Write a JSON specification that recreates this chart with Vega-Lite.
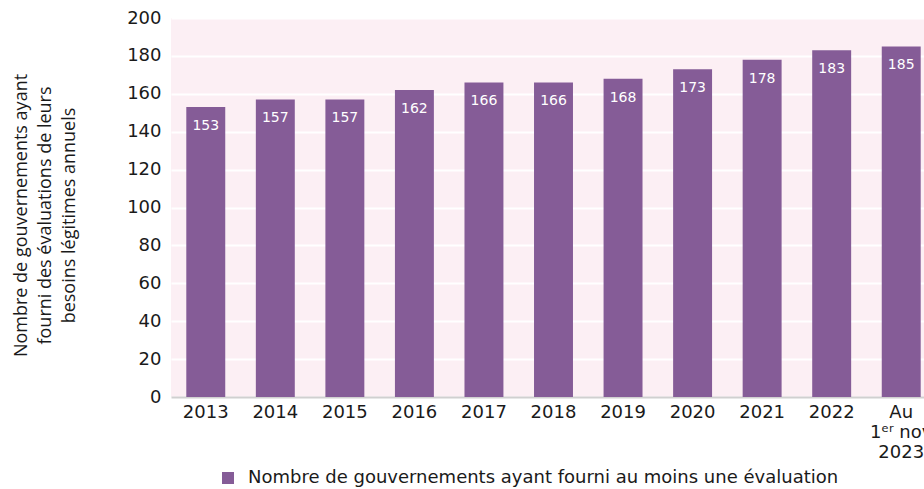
{
  "$schema": "https://vega.github.io/schema/vega-lite/v6.json",
  "width": 765,
  "height": 379,
  "padding": {"left": 12, "top": 9, "right": 0, "bottom": 0},
  "background": "white",
  "config": {
    "view": {"fill": "#FCEFF4", "stroke": null},
    "font": "DejaVu Sans"
  },
  "data": {
    "values": [
      {"annee": "2013", "valeur": 153, "serie": "Nombre de gouvernements ayant fourni au moins une évaluation"},
      {"annee": "2014", "valeur": 157, "serie": "Nombre de gouvernements ayant fourni au moins une évaluation"},
      {"annee": "2015", "valeur": 157, "serie": "Nombre de gouvernements ayant fourni au moins une évaluation"},
      {"annee": "2016", "valeur": 162, "serie": "Nombre de gouvernements ayant fourni au moins une évaluation"},
      {"annee": "2017", "valeur": 166, "serie": "Nombre de gouvernements ayant fourni au moins une évaluation"},
      {"annee": "2018", "valeur": 166, "serie": "Nombre de gouvernements ayant fourni au moins une évaluation"},
      {"annee": "2019", "valeur": 168, "serie": "Nombre de gouvernements ayant fourni au moins une évaluation"},
      {"annee": "2020", "valeur": 173, "serie": "Nombre de gouvernements ayant fourni au moins une évaluation"},
      {"annee": "2021", "valeur": 178, "serie": "Nombre de gouvernements ayant fourni au moins une évaluation"},
      {"annee": "2022", "valeur": 183, "serie": "Nombre de gouvernements ayant fourni au moins une évaluation"},
      {"annee": "Au 1er nov 2023", "valeur": 185, "serie": "Nombre de gouvernements ayant fourni au moins une évaluation"}
    ]
  },
  "encoding": {
    "x": {
      "field": "annee",
      "type": "nominal",
      "sort": null,
      "scale": {"paddingInner": 0.44, "paddingOuter": 0.22},
      "axis": {
        "title": null,
        "labelAngle": 0,
        "labelFontSize": 18,
        "labelColor": "#1a1a1a",
        "labelPadding": 6,
        "ticks": false,
        "domain": true,
        "domainColor": "#d0d0d0",
        "domainWidth": 2,
        "labelLineHeight": 20,
        "labelBaseline": "top",
        "labelExpr": "datum.value == 'Au 1er nov 2023' ? ['Au', '1ᵉʳ nov', '2023'] : datum.value"
      }
    },
    "y": {
      "field": "valeur",
      "type": "quantitative",
      "scale": {"domain": [0, 200], "nice": false},
      "axis": {
        "values": [0, 20, 40, 60, 80, 100, 120, 140, 160, 180, 200],
        "title": ["Nombre de gouvernements ayant", "fourni des évaluations de leurs", "besoins légitimes annuels"],
        "titleFont": "Open Sans",
        "titleFontSize": 18,
        "titleFontWeight": "normal",
        "titleColor": "#1a1a1a",
        "titleLineHeight": 24,
        "titlePadding": 48,
        "titleY": 197,
        "labelFontSize": 18,
        "labelColor": "#1a1a1a",
        "labelPadding": 10,
        "ticks": false,
        "domain": false,
        "grid": true,
        "gridColor": "white",
        "gridWidth": 2
      }
    }
  },
  "layer": [
    {
      "mark": {"type": "bar", "color": "#855C97"},
      "encoding": {
        "color": {
          "field": "serie",
          "type": "nominal",
          "scale": {"range": ["#855C97"]},
          "legend": {
            "title": null,
            "orient": "none",
            "legendX": 48,
            "legendY": 451,
            "symbolType": "square",
            "symbolSize": 144,
            "symbolOpacity": 1,
            "labelOffset": 11,
            "labelFontSize": 18,
            "labelColor": "#1a1a1a",
            "labelLimit": 800
          }
        }
      }
    },
    {
      "mark": {"type": "text", "color": "white", "baseline": "top", "dy": 12, "fontSize": 14},
      "encoding": {
        "text": {"field": "valeur", "type": "quantitative"}
      }
    }
  ]
}
